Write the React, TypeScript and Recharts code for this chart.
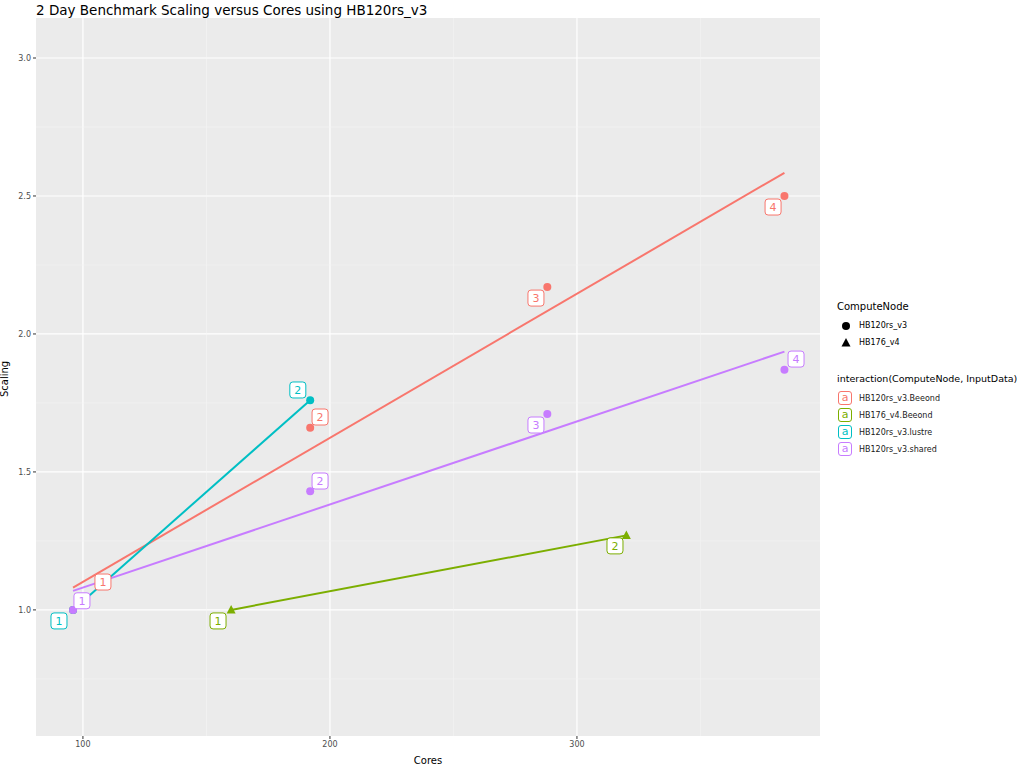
import React from "react";
import { ComposedChart, XAxis, YAxis, CartesianGrid, Line, Scatter, ReferenceLine } from "recharts";

const RED = "#F8766D", GREEN = "#7CAE00", CYAN = "#00BFC4", PURPLE = "#C77CFF";
const xTicks = [100, 200, 300];
const yTicks = [1.0, 1.5, 2.0, 2.5, 3.0];
const xMinor = [150, 250, 350];
const yMinor = [0.75, 1.25, 1.75, 2.25, 2.75];

const beeondPts = [{ x: 96, y: 1.0 }, { x: 192, y: 1.66 }, { x: 288, y: 2.17 }, { x: 384, y: 2.5 }];
const lustrePts = [{ x: 96, y: 1.0 }, { x: 192, y: 1.76 }];
const sharedPts = [{ x: 96, y: 1.0 }, { x: 192, y: 1.43 }, { x: 288, y: 1.71 }, { x: 384, y: 1.87 }];
const hb176Pts = [{ x: 160, y: 1.0 }, { x: 320, y: 1.27 }];

const beeondFit = [{ x: 96, y: 1.081 }, { x: 384, y: 2.584 }];
const lustreFit = [{ x: 96, y: 1.0 }, { x: 192, y: 1.76 }];
const sharedFit = [{ x: 96, y: 1.069 }, { x: 384, y: 1.936 }];
const hb176Fit = [{ x: 160, y: 1.0 }, { x: 320, y: 1.27 }];

const beeondLabels = [{ x: 108.1, y: 1.101, t: "1" }, { x: 196, y: 1.699, t: "2" }, { x: 283.4, y: 2.13, t: "3" }, { x: 379.4, y: 2.46, t: "4" }];
const lustreLabels = [{ x: 90.3, y: 0.96, t: "1" }, { x: 187, y: 1.797, t: "2" }];
const sharedLabels = [{ x: 99.6, y: 1.033, t: "1" }, { x: 196, y: 1.467, t: "2" }, { x: 283.4, y: 1.67, t: "3" }, { x: 388.7, y: 1.909, t: "4" }];
const hb176Labels = [{ x: 154.7, y: 0.96, t: "1" }, { x: 315.4, y: 1.232, t: "2" }];

const labelShape = (color: string) => (p: any) => (
  <g>
    <rect x={p.cx - 8} y={p.cy - 8} width={16} height={16} rx={3} fill="white" stroke={color} strokeWidth={1} />
    <text x={p.cx} y={p.cy + 4} textAnchor="middle" fontSize={11} fill={color} fontFamily="DejaVu Sans">{p.payload.t}</text>
  </g>
);
const dot = (color: string) => (p: any) => <circle cx={p.cx} cy={p.cy} r={4} fill={color} />;
const tri = (color: string) => (p: any) => (
  <polygon points={`${p.cx},${p.cy - 5} ${p.cx - 4.5},${p.cy + 3.5} ${p.cx + 4.5},${p.cy + 3.5}`} fill={color} />
);

const font = "DejaVu Sans, sans-serif";

export default function App() {
  const key = (c: string, label: string, top: number) => (
    <div style={{ position: "absolute", left: 838, top, display: "flex", alignItems: "center", fontSize: 8, color: "#1a1a1a", whiteSpace: "nowrap" }}>
      <div style={{ width: 14, height: 14, boxSizing: "border-box", border: `1px solid ${c}`, borderRadius: 3, background: "white", color: c, fontSize: 11, textAlign: "center", lineHeight: "12px" }}>a</div>
      <span style={{ marginLeft: 7 }}>{label}</span>
    </div>
  );
  return (
    <div style={{ position: "absolute", left: 0, top: 0, width: 1024, height: 768, background: "white", fontFamily: font }}>
      <div style={{ position: "absolute", left: 36, top: 2, fontSize: 13.5, color: "#000", whiteSpace: "nowrap" }}>2 Day Benchmark Scaling versus Cores using HB120rs_v3</div>
      <ComposedChart width={1024} height={768} margin={{ top: 18, right: 204, left: 0, bottom: 0 }}>
        <CartesianGrid fill="#EBEBEB" stroke="#FFFFFF" strokeWidth={1.2} horizontalValues={yTicks} verticalValues={xTicks} />
        {xMinor.map(v => <ReferenceLine key={"x" + v} x={v} stroke="#F5F5F5" strokeWidth={0.6} />)}
        {yMinor.map(v => <ReferenceLine key={"y" + v} y={v} stroke="#F5F5F5" strokeWidth={0.6} />)}
        <XAxis type="number" dataKey="x" domain={[81, 398.4]} ticks={xTicks} allowDataOverflow height={32} tickSize={3}
          axisLine={false} tickLine={{ stroke: "#333" }} tick={{ fontSize: 8, fill: "#4d4d4d", fontFamily: font }}
          label={{ value: "Cores", position: "insideBottom", offset: 4, fontSize: 10, fill: "#000", fontFamily: font }} />
        <YAxis type="number" dataKey="y" domain={[0.543, 3.145]} ticks={yTicks} allowDataOverflow width={36} tickSize={3}
          axisLine={false} tickLine={{ stroke: "#333" }} tick={{ fontSize: 8, fill: "#4d4d4d", fontFamily: font }}
          tickFormatter={(v: number) => v.toFixed(1)}
          label={{ value: "Scaling", angle: -90, position: "insideLeft", offset: 4, fontSize: 10, fill: "#000", fontFamily: font, dy: 20 }} />
        <Line data={beeondFit} dataKey="y" stroke={RED} strokeWidth={2} dot={false} isAnimationActive={false} />
        <Line data={hb176Fit} dataKey="y" stroke={GREEN} strokeWidth={2} dot={false} isAnimationActive={false} />
        <Line data={lustreFit} dataKey="y" stroke={CYAN} strokeWidth={2} dot={false} isAnimationActive={false} />
        <Line data={sharedFit} dataKey="y" stroke={PURPLE} strokeWidth={2} dot={false} isAnimationActive={false} />
        <Scatter data={beeondPts} dataKey="y" shape={dot(RED)} isAnimationActive={false} />
        <Scatter data={lustrePts} dataKey="y" shape={dot(CYAN)} isAnimationActive={false} />
        <Scatter data={sharedPts} dataKey="y" shape={dot(PURPLE)} isAnimationActive={false} />
        <Scatter data={hb176Pts} dataKey="y" shape={tri(GREEN)} isAnimationActive={false} />
        <Scatter data={beeondLabels} dataKey="y" shape={labelShape(RED)} isAnimationActive={false} />
        <Scatter data={lustreLabels} dataKey="y" shape={labelShape(CYAN)} isAnimationActive={false} />
        <Scatter data={sharedLabels} dataKey="y" shape={labelShape(PURPLE)} isAnimationActive={false} />
        <Scatter data={hb176Labels} dataKey="y" shape={labelShape(GREEN)} isAnimationActive={false} />
      </ComposedChart>
      <div style={{ position: "absolute", left: 837, top: 301, fontSize: 10, whiteSpace: "nowrap" }}>ComputeNode</div>
      <svg style={{ position: "absolute", left: 838, top: 318 }} width={16} height={34}>
        <circle cx={8} cy={8} r={4} fill="#000" />
        <polygon points="8,20 3.5,28.5 12.5,28.5" fill="#000" />
      </svg>
      <div style={{ position: "absolute", left: 859, top: 321, fontSize: 8, whiteSpace: "nowrap" }}>HB120rs_v3</div>
      <div style={{ position: "absolute", left: 859, top: 338, fontSize: 8, whiteSpace: "nowrap" }}>HB176_v4</div>
      <div style={{ position: "absolute", left: 837, top: 373, fontSize: 9.5, whiteSpace: "nowrap" }}>interaction(ComputeNode, InputData)</div>
      {key(RED, "HB120rs_v3.Beeond", 391)}
      {key(GREEN, "HB176_v4.Beeond", 408)}
      {key(CYAN, "HB120rs_v3.lustre", 425)}
      {key(PURPLE, "HB120rs_v3.shared", 442)}
    </div>
  );
}
